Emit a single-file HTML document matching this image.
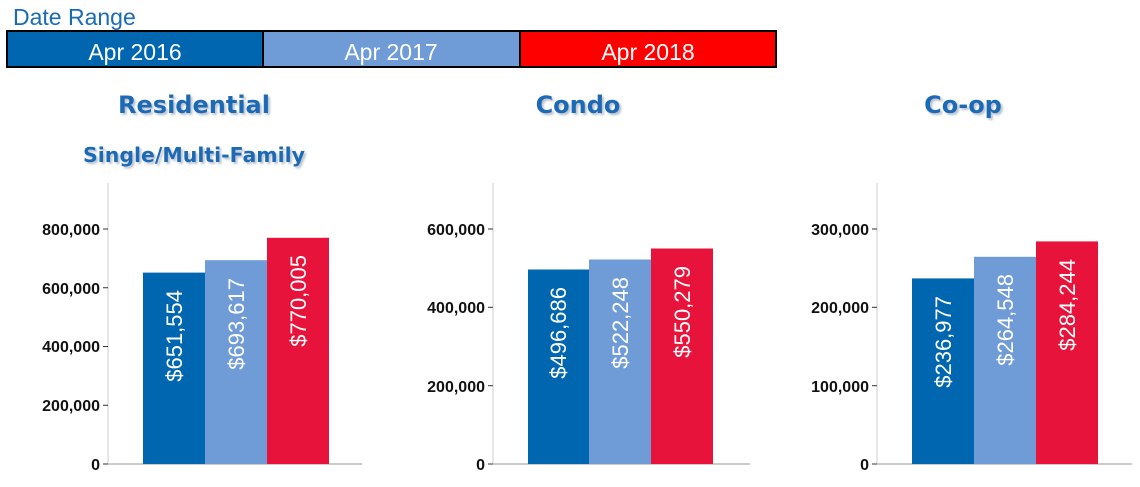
<!DOCTYPE html>
<html><head><style>
body{margin:0;background:#fff;width:1140px;height:482px;overflow:hidden;font-family:"Liberation Sans",sans-serif}
</style></head><body>
<svg width="1140" height="482" xmlns="http://www.w3.org/2000/svg" font-family="Liberation Sans, sans-serif">
<defs><filter id="sh" x="-10%" y="-10%" width="130%" height="140%"><feDropShadow dx="2" dy="2" stdDeviation="1" flood-color="#9aa8b8" flood-opacity="0.7"/></filter></defs>
<text x="13" y="25" font-size="23" fill="#1a6bb5">Date Range</text>
<rect x="7" y="31" width="256" height="36" fill="#0066b0" stroke="#000" stroke-width="2"/>
<rect x="263" y="31" width="257" height="36" fill="#6f9bd6" stroke="#000" stroke-width="2"/>
<rect x="520" y="31" width="256" height="36" fill="#ff0000" stroke="#000" stroke-width="2"/>
<g font-size="23" fill="#fff" text-anchor="middle">
<text x="135" y="60">Apr 2016</text><text x="391" y="60">Apr 2017</text><text x="648" y="60">Apr 2018</text></g>
<g font-family="DejaVu Sans, sans-serif" font-weight="bold" fill="#1a6bb5" text-anchor="middle" filter="url(#sh)">
<text x="194" y="113" font-size="24">Residential</text>
<text x="194" y="162" font-size="20" textLength="222" lengthAdjust="spacingAndGlyphs">Single/Multi-Family</text>
<text x="578" y="113" font-size="24">Condo</text>
<text x="963" y="113" font-size="24">Co-op</text></g>
<g font-size="16" font-weight="bold" fill="#111" text-anchor="end">
<line x1="108" y1="183" x2="108" y2="464" stroke="#ccc"/>
<line x1="108" y1="464" x2="362" y2="464" stroke="#ccc" stroke-width="2"/>
<g stroke="#333"><line x1="103" y1="464" x2="108" y2="464"/><line x1="103" y1="405.25" x2="108" y2="405.25"/><line x1="103" y1="346.5" x2="108" y2="346.5"/><line x1="103" y1="287.75" x2="108" y2="287.75"/><line x1="103" y1="229" x2="108" y2="229"/></g>
<text x="100" y="470">0</text><text x="100" y="411">200,000</text><text x="100" y="352">400,000</text><text x="100" y="294">600,000</text><text x="100" y="235">800,000</text>
<line x1="493" y1="183" x2="493" y2="464" stroke="#ccc"/>
<line x1="493" y1="464" x2="750" y2="464" stroke="#ccc" stroke-width="2"/>
<g stroke="#333"><line x1="488" y1="464" x2="493" y2="464"/><line x1="488" y1="385.7" x2="493" y2="385.7"/><line x1="488" y1="307.3" x2="493" y2="307.3"/><line x1="488" y1="229" x2="493" y2="229"/></g>
<text x="485" y="470">0</text><text x="485" y="392">200,000</text><text x="485" y="313">400,000</text><text x="485" y="235">600,000</text>
<line x1="877" y1="183" x2="877" y2="464" stroke="#ccc"/>
<line x1="877" y1="464" x2="1132" y2="464" stroke="#ccc" stroke-width="2"/>
<g stroke="#333"><line x1="872" y1="464" x2="877" y2="464"/><line x1="872" y1="385.7" x2="877" y2="385.7"/><line x1="872" y1="307.3" x2="877" y2="307.3"/><line x1="872" y1="229" x2="877" y2="229"/></g>
<text x="869" y="470">0</text><text x="869" y="392">100,000</text><text x="869" y="313">200,000</text><text x="869" y="235">300,000</text>
</g>
<rect x="143" y="272.6" width="62" height="191.4" fill="#0066b0"/>
<rect x="205" y="260.2" width="62" height="203.8" fill="#6f9bd6"/>
<rect x="267" y="237.8" width="62" height="226.2" fill="#e8133a"/>
<rect x="528" y="269.5" width="61" height="194.5" fill="#0066b0"/>
<rect x="589" y="259.5" width="62" height="204.5" fill="#6f9bd6"/>
<rect x="651" y="248.5" width="62" height="215.5" fill="#e8133a"/>
<rect x="912" y="278.4" width="62" height="185.6" fill="#0066b0"/>
<rect x="974" y="256.8" width="62" height="207.2" fill="#6f9bd6"/>
<rect x="1036" y="241.4" width="62" height="222.6" fill="#e8133a"/>
<g font-size="22" fill="#fff" text-anchor="end">
<text transform="translate(182,290) rotate(-90)">$651,554</text>
<text transform="translate(244,278) rotate(-90)">$693,617</text>
<text transform="translate(306,255) rotate(-90)">$770,005</text>
<text transform="translate(566,287) rotate(-90)">$496,686</text>
<text transform="translate(628,277) rotate(-90)">$522,248</text>
<text transform="translate(690,266) rotate(-90)">$550,279</text>
<text transform="translate(951,296) rotate(-90)">$236,977</text>
<text transform="translate(1013,274) rotate(-90)">$264,548</text>
<text transform="translate(1075,259) rotate(-90)">$284,244</text>
</g>
</svg>
</body></html>
